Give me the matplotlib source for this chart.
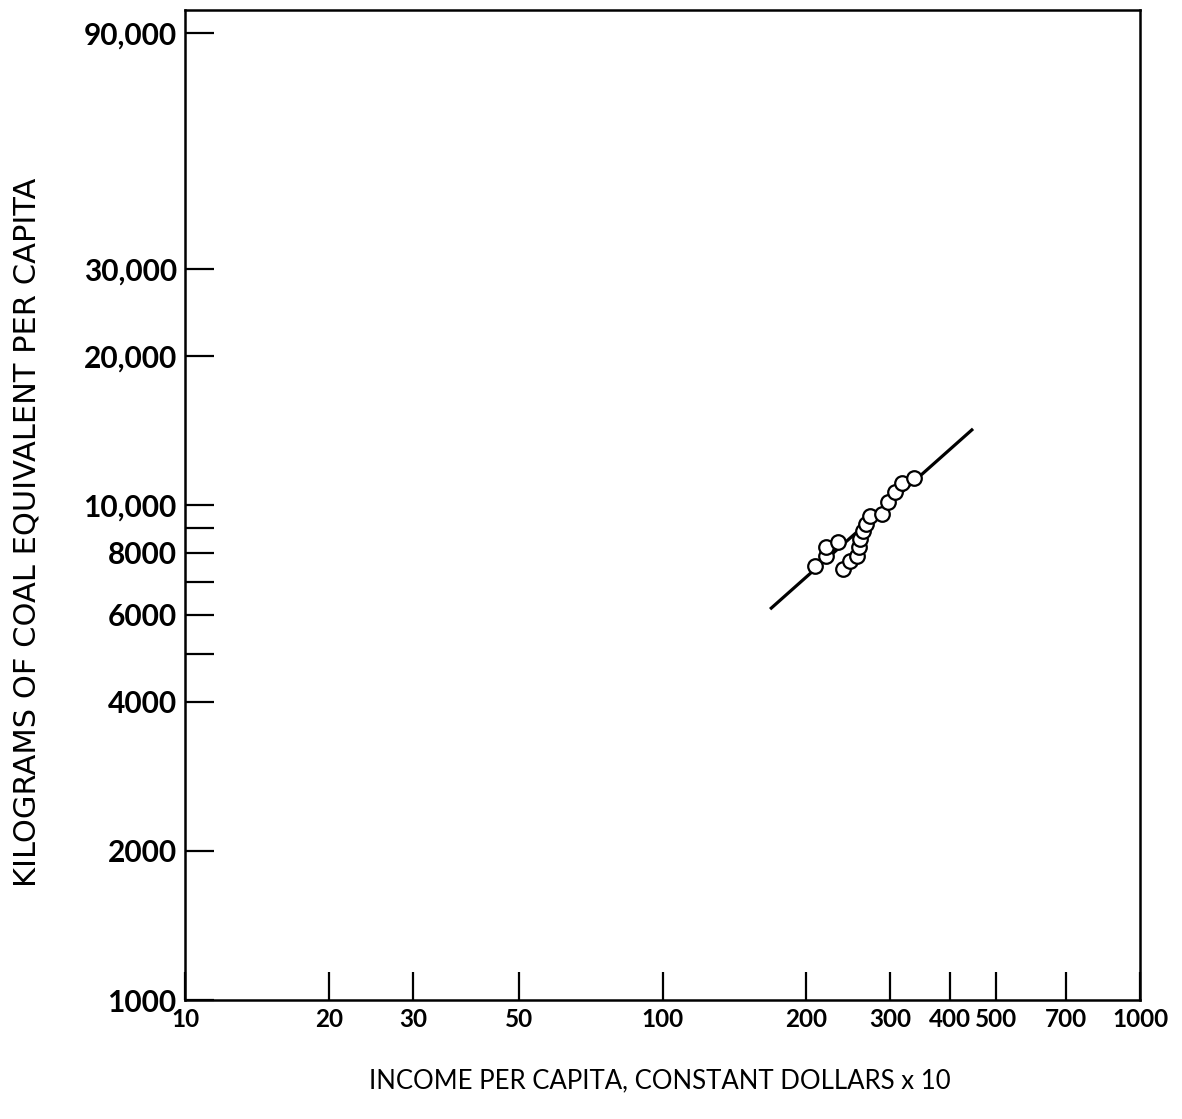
import matplotlib
matplotlib.use("Agg")
import matplotlib.pyplot as plt
from matplotlib.ticker import FixedLocator, FixedFormatter, NullLocator

# Observations: income per capita (constant dollars x 10) vs energy use
income = [208.6, 220, 220, 233, 238.8, 247, 255.5, 257.9, 259.1, 263,
          266.8, 272, 288.2, 296.7, 306.8, 317.3, 336.3]
energy = [7524, 7885, 8222, 8417, 7420, 7702, 7885, 8222, 8536, 8858,
          9153, 9500, 9590, 10140, 10625, 11080, 11340]

# Fitted trend line end points
fit_income = [168, 447]
fit_energy = [6160, 14250]

x_ticks = [10, 20, 30, 50, 100, 200, 300, 400, 500, 700, 1000]
x_tick_labels = ["10", "20", "30", "50", "100", "200", "300", "400", "500", "700", "1000"]
y_ticks = [1000, 2000, 4000, 5000, 6000, 7000, 8000, 9000, 10000, 20000, 30000, 90000]
y_tick_labels = ["1000", "2000", "4000", "", "6000", "", "8000", "", "10,000",
                 "20,000", "30,000", "90,000"]

W, H = 1182, 1119
fig = plt.figure(figsize=(W / 100, H / 100), dpi=100)
left, right, top, bottom = 185, 1140, 10, 1000
ax = fig.add_axes([left / W, 1 - bottom / H, (right - left) / W, (bottom - top) / H])

ax.set_xscale("log")
ax.set_yscale("log")
ax.set_xlim(10, 1000)
ax.set_ylim(1000, 100000)

ax.plot(fit_income, fit_energy, color="black", lw=2.3, solid_capstyle="butt", zorder=2)
ax.plot(income, energy, linestyle="none", marker="o", markersize=10.5,
        markerfacecolor="white", markeredgecolor="black", markeredgewidth=1.6, zorder=3)

for s in ax.spines.values():
    s.set_linewidth(1.8)

ax.xaxis.set_major_locator(FixedLocator(x_ticks))
ax.xaxis.set_major_formatter(FixedFormatter(x_tick_labels))
ax.xaxis.set_minor_locator(NullLocator())
ax.yaxis.set_major_locator(FixedLocator(y_ticks))
ax.yaxis.set_major_formatter(FixedFormatter(y_tick_labels))
ax.yaxis.set_minor_locator(NullLocator())

ax.tick_params(axis="x", direction="in", length=20, width=1.6, pad=6)
ax.tick_params(axis="y", direction="in", length=21, width=1.6, pad=6)
for lab in ax.get_xticklabels():
    lab.set_fontfamily("Lato")
    lab.set_fontweight("bold")
    lab.set_fontsize(17.5)
for lab in ax.get_yticklabels():
    lab.set_fontfamily("Lato")
    lab.set_fontweight("bold")
    lab.set_fontsize(21.5)

ax.set_xlabel("INCOME PER CAPITA, CONSTANT DOLLARS x 10",
              fontfamily="Lato", fontsize=18.5)
ax.xaxis.set_label_coords((660 - left) / (right - left), -(1068 - bottom) / (bottom - top))
ax.set_ylabel("KILOGRAMS OF COAL EQUIVALENT PER CAPITA",
              fontfamily="DejaVu Sans", fontsize=22)
ax.yaxis.set_label_coords(-(left - 42) / (right - left), (bottom - 532) / (bottom - top))

fig.savefig("out.png", dpi=100, facecolor="white")
